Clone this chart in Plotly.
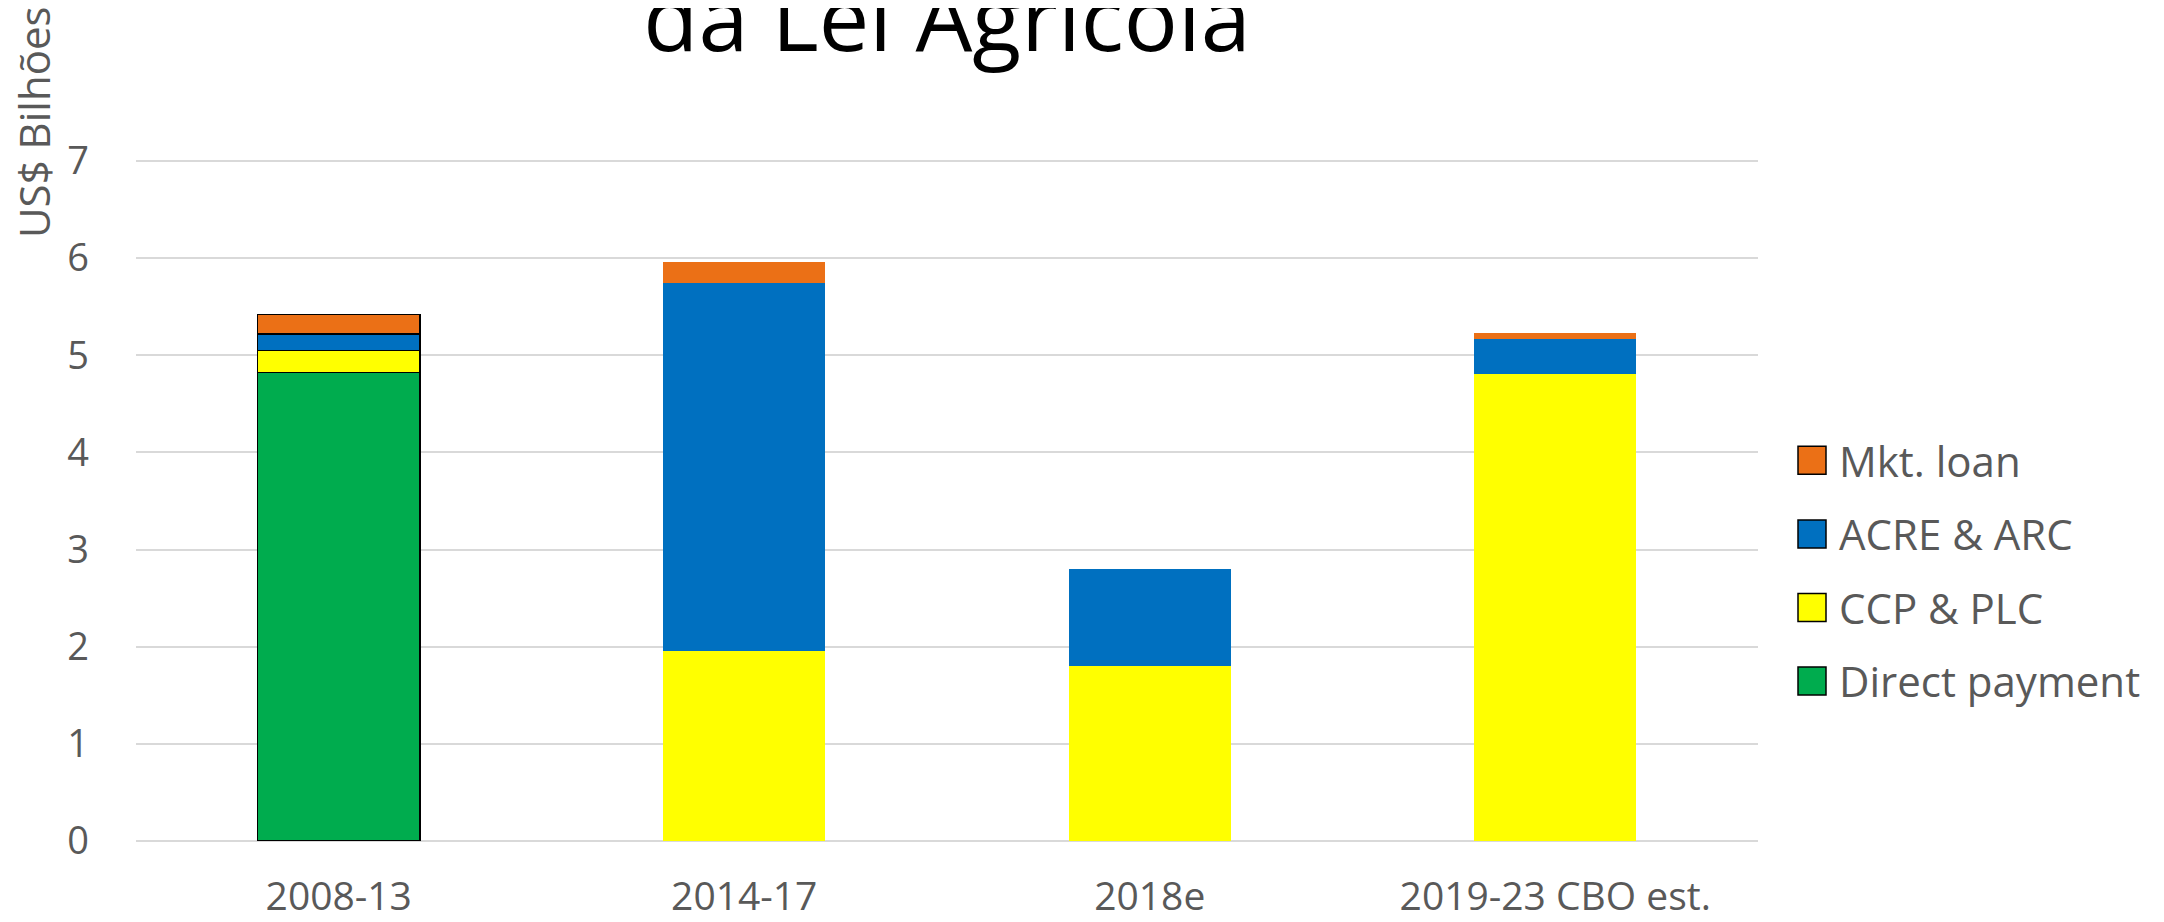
import plotly.graph_objects as go

categories = ["2008-13", "2014-17", "2018e", "2019-23 CBO est."]
direct_payment = [4.82, 0, 0, 0]
ccp_plc = [0.23, 1.96, 1.80, 4.81]
acre_arc = [0.17, 3.78, 1.00, 0.36]
mkt_loan = [0.20, 0.22, 0, 0.06]

series = [
    ("Direct payment", direct_payment, "#00AC4E", 4),
    ("CCP & PLC", ccp_plc, "#FFFF00", 3),
    ("ACRE & ARC", acre_arc, "#0070C0", 2),
    ("Mkt. loan", mkt_loan, "#EB7016", 1),
]
outline = [1.5, 0, 0, 0]

W, H = 2164, 922
ml, mr, mt, mb = 128, 414, 150, 89
pw, ph = W - ml - mr, H - mt - mb

fig = go.Figure()
for i, (name, vals, col, rank) in enumerate(series):
    fig.add_trace(go.Bar(
        x=categories, y=vals, name=name, legendgroup=f"g{i}", legendrank=rank,
        marker=dict(color=col, line=dict(color="#000000", width=outline)),
        hoverinfo="x+y+name",
    ))

grey = "#595959"
fig.update_layout(
    width=W, height=H,
    margin=dict(l=ml, r=mr, t=mt, b=mb, autoexpand=False),
    barmode="stack", bargap=0.6,
    plot_bgcolor="white", paper_bgcolor="white",
    font=dict(family="Open Sans", color=grey),
    title=dict(text="da Lei Agrícola", font=dict(size=90, color="#000000"),
               x=0.5, xref="paper", y=0.9535, yref="container", yanchor="bottom"),
    xaxis=dict(tickfont=dict(size=39, color=grey), ticklabelstandoff=29,
               showline=False, showgrid=False, automargin=False),
    yaxis=dict(range=[0, 7.03], tickvals=[0, 1, 2, 3, 4, 5, 6, 7],
               tickfont=dict(size=38, color=grey),
               gridcolor="#D9D9D9", gridwidth=1.5, zeroline=True,
               zerolinecolor="#D9D9D9", zerolinewidth=1.5, ticklabelstandoff=46,
               automargin=False),
    legend=dict(traceorder="grouped", tracegroupgap=16,
                font=dict(size=42, color=grey), x=(1777 - ml) / pw, xanchor="left",
                y=(833 - 563) / ph, yanchor="middle", itemwidth=44,
                bgcolor="rgba(0,0,0,0)"),
    annotations=[dict(text="US$ Bilhões", textangle=-90, showarrow=False,
                      xref="paper", yref="paper", x=(25 - ml) / pw, y=(833 - 114) / ph,
                      xanchor="center", yanchor="middle",
                      font=dict(size=42, color=grey))],
)

post = """
var gd = document.getElementById('{plot_id}');
function fixLegend(){
  gd.querySelectorAll('.legend .legendpoints path').forEach(function(p){
    p.setAttribute('d', 'M14,14H-14V-14H14Z');
    p.style.strokeWidth = '1.5px';
    p.style.stroke = '#000000';
  });
}
fixLegend();
gd.on('plotly_afterplot', fixLegend);
setTimeout(fixLegend, 50);
setTimeout(fixLegend, 300);
"""

fig.write_html("out.html", post_script=post)
